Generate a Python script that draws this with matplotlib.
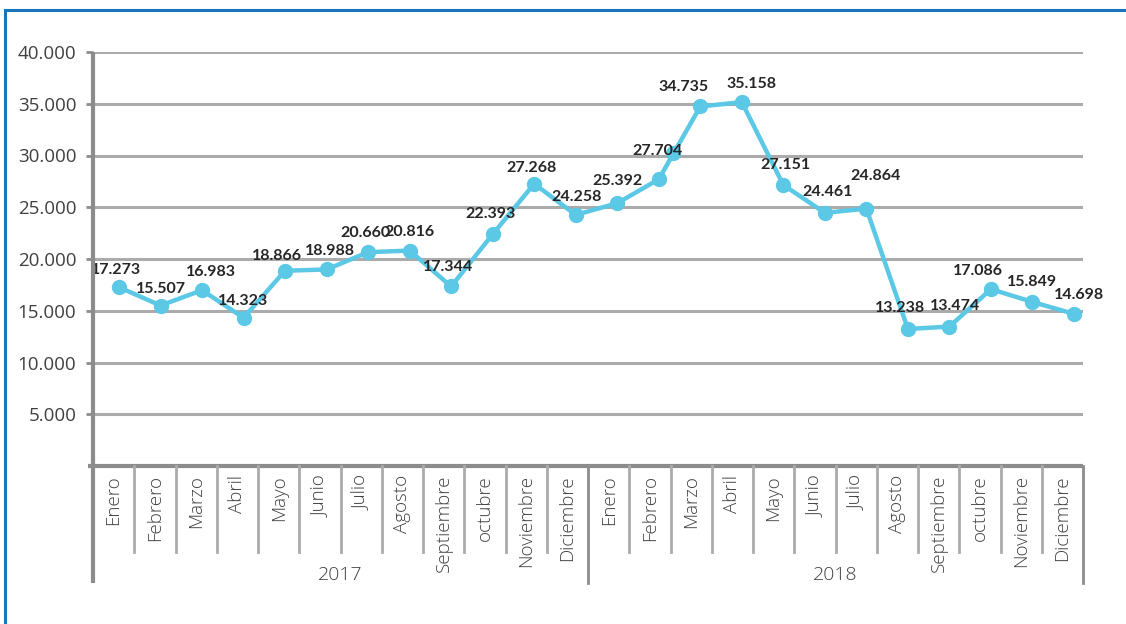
import matplotlib
matplotlib.use("Agg")
import matplotlib.pyplot as plt
from matplotlib.lines import Line2D

# ---------------- data ----------------
months = ["Enero", "Febrero", "Marzo", "Abril", "Mayo", "Junio", "Julio",
          "Agosto", "Septiembre", "octubre", "Noviembre", "Diciembre"]
years = ["2017", "2018"]
values_2017 = [17273, 15507, 16983, 14323, 18866, 18988, 20660, 20816,
               17344, 22393, 27268, 24258]
values_2018 = [25392, 27704, 34735, 35158, 27151, 24461, 24864, 13238,
               13474, 17086, 15849, 14698]
# stray marker that appears on the line between Febrero and Marzo 2018
extra_x = [13.34]
extra_y = [30240]
y_ticks = [5000, 10000, 15000, 20000, 25000, 30000, 35000, 40000]

values = values_2017 + values_2018
labels = [f"{v:,}".replace(",", ".") for v in values]
n = len(values)
x = list(range(n))

# label offsets in pixels (dx, dy) – styling only
label_off = [(-3, 17), (0, 17), (9, 18), (0, 17), (-8, 15), (3, 18),
             (-3, 19), (0, 19), (-3, 19), (-2, 20), (-3, 16), (1, 18),
             (0, 22), (-1, 28), (-17, 19), (10, 18), (2, 20), (3, 21),
             (9, 33), (-8, 21), (6, 21), (-13, 18), (0, 20), (5, 19)]

W, H = 1126, 624
fig = plt.figure(figsize=(W / 100, H / 100), dpi=100)

LINE = "#5BC8E6"
GRID = "#ABABAB"
AXC = "#8C8C8C"
TXT = "#404040"
LAB = "#262626"
BORDER = "#1A75BB"

left, right = 93 / W, 1083 / W
bottom, top = 1 - 466 / H, 1 - 52 / H

# main plotting axes
ax = fig.add_axes([left, bottom, right - left, top - bottom])
ax.set_xlim(-0.626, 23.217)
ax.set_ylim(0, 40000)
for s in ax.spines.values():
    s.set_visible(False)
ax.set_xticks([])
ax.set_yticks(y_ticks)
ax.set_yticklabels([f"{t:,}".replace(",", ".") for t in y_ticks],
                   fontsize=13.5, color=TXT, family="Open Sans")
ax.tick_params(axis="y", length=5, width=2, color=AXC, pad=7)
ax.yaxis.grid(True, color=GRID, linewidth=2.2)
ax.set_axisbelow(True)

ax.plot(x, values, color=LINE, linewidth=3.2, marker="o", markersize=10,
        markerfacecolor=LINE, markeredgecolor=LINE, zorder=3, clip_on=False)
ax.plot(extra_x, extra_y, linestyle="none", marker="o", markersize=10,
        color=LINE, zorder=3)

for xi, v, lab, (dx, dy) in zip(x, values, labels, label_off):
    ax.annotate(lab, (xi, v), xytext=(dx, dy), textcoords="offset pixels",
                ha="center", va="center", fontsize=11.5, fontweight="bold",
                color=LAB, family="Lato", zorder=4)

# category axes (for multi-level labels and separators)
cax = fig.add_axes([left, bottom, right - left, top - bottom], facecolor="none")
cax.set_xlim(-0.5, 23.5)
cax.set_ylim(0, 1)
cax.axis("off")
ph = (466 - 52)  # plot height in px

def ay(px_below):
    return -px_below / ph

# left axis line (extends down through category area)
cax.add_line(Line2D([-0.5, -0.5], [ay(117), 1], color=AXC, linewidth=3,
                    clip_on=False, solid_capstyle="butt"))
# bottom axis line
cax.add_line(Line2D([-0.5 - 5 * 24 / 990, 23.5], [0, 0], color=AXC,
                    linewidth=3, clip_on=False, solid_capstyle="butt"))
# separators
for i in range(1, n):
    if i % 12 == 0:
        cax.add_line(Line2D([i - 0.5, i - 0.5], [ay(117), 0], color=AXC,
                            linewidth=2, clip_on=False))
    else:
        cax.add_line(Line2D([i - 0.5, i - 0.5], [ay(86), 0], color=GRID,
                            linewidth=2, clip_on=False))
cax.add_line(Line2D([23.5, 23.5], [ay(117), 0], color=AXC, linewidth=2,
                    clip_on=False))

for i in range(n):
    cax.text(i, ay(9), months[i % 12], rotation=90, ha="center", va="top",
             fontsize=13.5, color=TXT, family="Open Sans", fontweight="light",
             clip_on=False)
for j, yr in enumerate(years):
    cax.text(j * 12 + 5.5, ay(109), yr, ha="center", va="center",
             fontsize=14, color=TXT, family="Open Sans", fontweight="light",
             clip_on=False)

# blue frame (left and top visible)
fig.add_artist(Line2D([5 / W, 5 / W], [0, 1 - 10 / H], color=BORDER,
                      linewidth=2.2, transform=fig.transFigure))
fig.add_artist(Line2D([5 / W, 1], [1 - 10 / H, 1 - 10 / H], color=BORDER,
                      linewidth=2.2, transform=fig.transFigure))

fig.savefig("out.png", dpi=100)
